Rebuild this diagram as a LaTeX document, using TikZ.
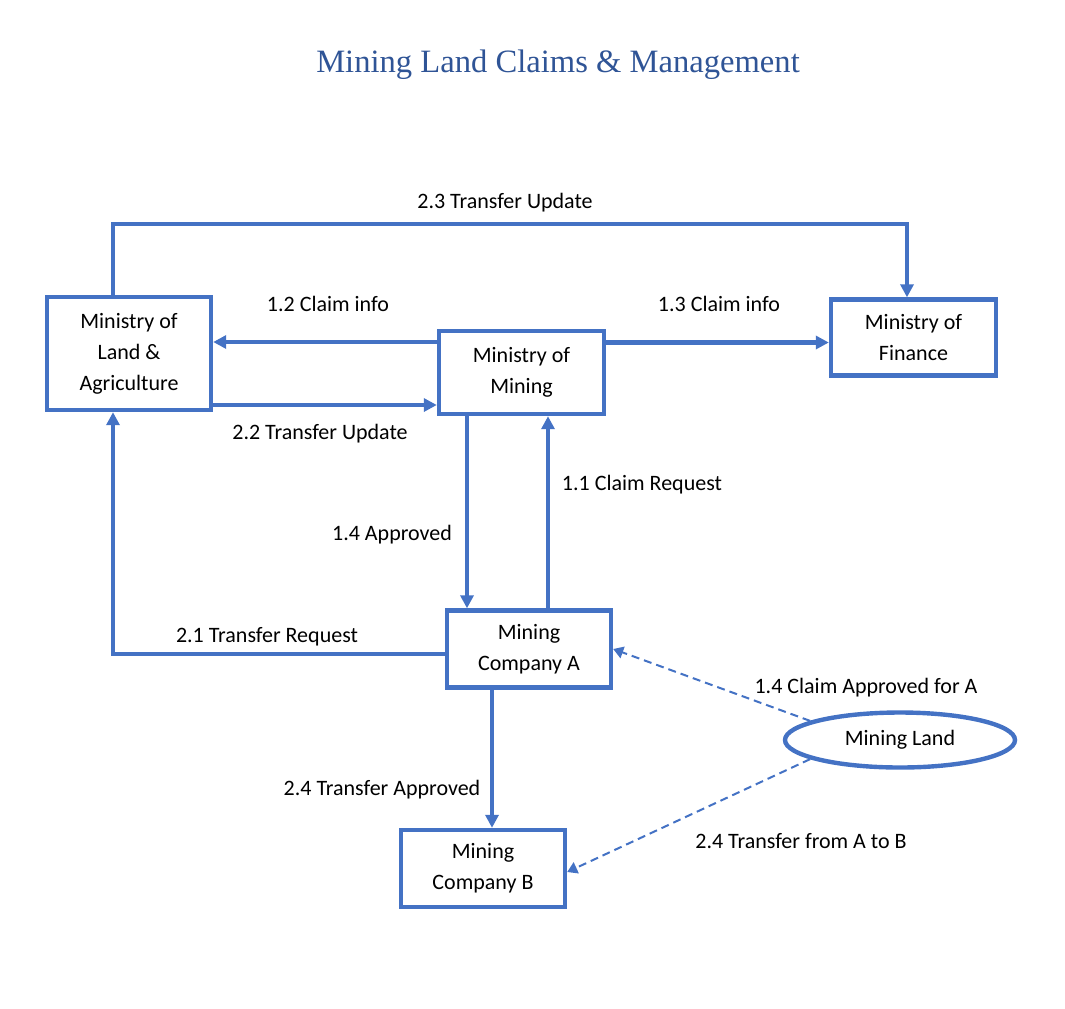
\documentclass[tikz,border=0pt]{standalone}
\usepackage{fontspec}
\setmainfont{Carlito}
\newfontfamily\titlefont{Liberation Serif}
\usetikzlibrary{arrows.meta,shapes.geometric}
\begin{document}
\begin{tikzpicture}[x=0.5pt,y=-0.5pt,
  box/.style={draw=lineblue,line width=2.2pt,align=center,inner sep=0pt,font=\fontsize{11}{15.5}\selectfont},
  flow/.style={draw=lineblue,line width=2.2pt,-{Triangle[length=6.5pt,width=6.5pt]}},
  link/.style={draw=lineblue,line width=1pt,dash pattern=on 4pt off 2.5pt,-{Triangle[length=5pt,width=6pt]}},
  lbl/.style={font=\fontsize{11}{13}\selectfont,inner sep=0pt}]
\definecolor{lineblue}{HTML}{4472C4}
\definecolor{titleblue}{HTML}{2F5496}
\useasboundingbox (0,0) rectangle (1065,1008);
\node[font=\titlefont\fontsize{16.3}{20}\selectfont,text=titleblue] (title) at (558,65) {Mining Land Claims \& Management};
\node[box,minimum width=82pt,minimum height=56.5pt] (landag) at (129,353.5) {Ministry of\\Land \&\\Agriculture};
\node[box,minimum width=82.5pt,minimum height=41.5pt] (mining) at (521.5,372.5) {Ministry of\\Mining};
\node[box,minimum width=82.5pt,minimum height=38pt] (finance) at (913.5,337.5) {Ministry of\\Finance};
\node[box,minimum width=82pt,minimum height=38.5pt] (compA) at (529,649) {Mining\\Company A};
\node[box,minimum width=82pt,minimum height=38.5pt] (compB) at (483,868.5) {Mining\\Company B};
\node[box,ellipse,minimum width=115pt,minimum height=27.5pt] (land) at (900,740) {Mining Land};
\draw[flow] ([xshift=-8pt]landag.north) -- ++(0,-71) -| ([xshift=-3.25pt]finance.north);
\draw[flow] ([yshift=15.25pt]mining.west) -- ([yshift=5.75pt]landag.east);
\draw[flow] ([yshift=15pt]mining.east) -- ([yshift=-2.5pt]finance.west);
\draw[flow] ([yshift=-25.75pt]landag.east) -- ([yshift=-16.25pt]mining.west);
\draw[flow] ([xshift=-27.25pt]mining.south) -- ([xshift=-31pt]compA.north);
\draw[flow] ([xshift=9.5pt]compA.north) -- ([xshift=13.25pt]mining.south);
\draw[flow] ([yshift=-2.5pt]compA.west) -| ([xshift=-8pt]landag.south);
\draw[flow] ([xshift=-18.5pt]compA.south) -- ([xshift=4.5pt]compB.north);
\draw[link] (land.168) -- (compA.east);
\draw[link] (land.192) -- ([yshift=-1.75pt]compB.east);
\node[lbl] (l23) at (505,203) {2.3 Transfer Update};
\node[lbl] (l12) at (328,304) {1.2 Claim info};
\node[lbl] (l13) at (719,304) {1.3 Claim info};
\node[lbl] (l22) at (320,434) {2.2 Transfer Update};
\node[lbl] (l14) at (392,535) {1.4 Approved};
\node[lbl] (l11) at (642,485) {1.1 Claim Request};
\node[lbl] (l21) at (267,637) {2.1 Transfer Request};
\node[lbl] (l24) at (382,790) {2.4 Transfer Approved};
\node[lbl] (l14a) at (866,688) {1.4 Claim Approved for A};
\node[lbl] (l24b) at (801,841) {2.4 Transfer from A to B};
\end{tikzpicture}
\end{document}
